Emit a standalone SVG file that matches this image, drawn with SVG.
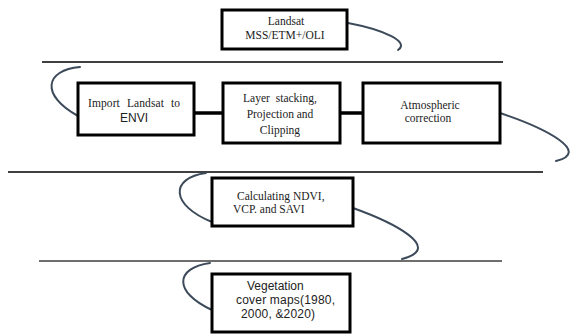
<svg xmlns="http://www.w3.org/2000/svg" width="576" height="334" viewBox="0 0 576 334">
<style>
.box{fill:#fff;stroke:#000;stroke-width:3}
.serif{font-family:"Liberation Serif","Times New Roman",serif;font-size:11.5px;fill:#222}
.sans{font-family:"Liberation Sans",Arial,sans-serif;font-size:12px;fill:#222}
.curve{fill:none;stroke:#3c4a5a;stroke-width:2;stroke-linecap:round}
.rule{stroke:#000;stroke-width:1.5}
.link{stroke:#000;stroke-width:3.5}
</style>
<rect width="576" height="334" fill="#fff"/>
<g id="separators">
<line class="rule" x1="42" y1="62" x2="503" y2="62"/>
<line class="rule" x1="8" y1="172" x2="543" y2="172"/>
<line x1="39" y1="261" x2="502" y2="261" stroke="#6e6e6e" stroke-width="2"/>
</g>
<g id="connectors">
<line class="link" x1="194" y1="113" x2="223" y2="113"/>
<line class="link" x1="340" y1="113" x2="363" y2="113"/>
<path class="curve" d="M348,23 C385,30 410,42 398,50"/>
<path class="curve" d="M80,67 C45,70 40,95 78,116"/>
<path class="curve" d="M500,113 C545,128 592,152 556,161"/>
<path class="curve" d="M206,173 C170,178 170,205 212,222"/>
<path class="curve" d="M353,208 C392,222 445,248 402,259"/>
<path class="curve" d="M210,263 C175,268 173,292 212,310"/>
</g>
<g id="landsat">
<rect class="box" x="222" y="10" width="125" height="39"/>
<text class="serif" x="286" y="25" text-anchor="middle">Landsat</text>
<text class="serif" x="285" y="39" text-anchor="middle">MSS/ETM+/OLI</text>
</g>
<g id="import">
<rect class="box" x="78" y="83" width="116" height="52"/>
<text class="serif" x="88" y="107" textLength="92" lengthAdjust="spacing" word-spacing="4">Import Landsat to</text>
<text class="sans" x="134" y="122" text-anchor="middle" font-size="11">ENVI</text>
</g>
<g id="layer">
<rect class="box" x="223" y="83" width="117" height="60"/>
<text class="serif" x="280" y="102" text-anchor="middle" word-spacing="3">Layer stacking,</text>
<text class="serif" x="280" y="118" text-anchor="middle">Projection and</text>
<text class="serif" x="280" y="134" text-anchor="middle">Clipping</text>
</g>
<g id="atmospheric">
<rect class="box" x="363" y="83" width="137" height="60"/>
<text class="serif" x="430" y="109" text-anchor="middle">Atmospheric</text>
<text class="serif" x="428" y="122" text-anchor="middle">correction</text>
</g>
<g id="calculating">
<rect class="box" x="212" y="178" width="141" height="48"/>
<text class="serif" x="237" y="200">Calculating NDVI,</text>
<text class="serif" x="233" y="213">VCP. and SAVI</text>
</g>
<g id="vegetation">
<rect class="box" x="212" y="274" width="138" height="58"/>
<text class="sans" x="247" y="290">Vegetation</text>
<text class="sans" x="236" y="304" textLength="99">cover maps(1980,</text>
<text class="sans" x="241" y="318" textLength="74">2000, &amp;2020)</text>
</g>
</svg>
